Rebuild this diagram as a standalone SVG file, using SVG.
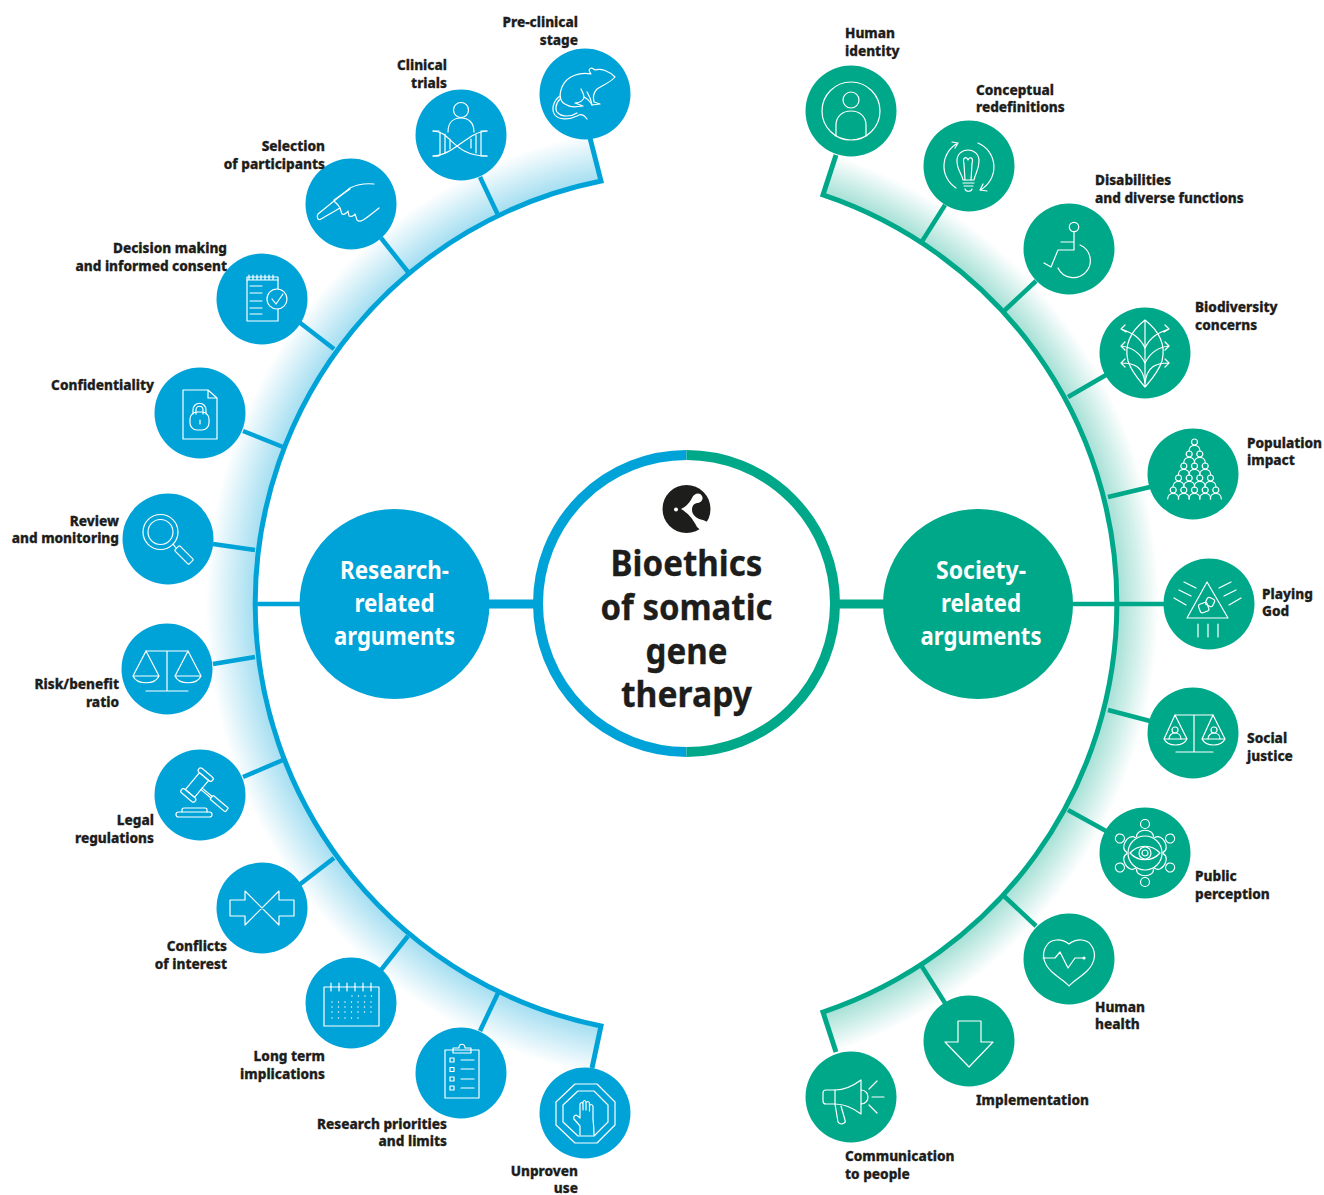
<svg xmlns="http://www.w3.org/2000/svg" xmlns:xlink="http://www.w3.org/1999/xlink" width="1324" height="1195" viewBox="0 0 1324 1195">
<style>
text{font-family:"Noto Sans","Open Sans","Liberation Sans",sans-serif;}
.lb{font-size:13.6px;font-weight:800;fill:#1d1d1b;stroke:#1d1d1b;stroke-width:0.3px;}
.r{text-anchor:end;}
.big{font-size:24.5px;font-weight:700;fill:#fff;text-anchor:middle;}
.title{font-size:35px;font-weight:700;fill:#1d1d1b;stroke:#1d1d1b;stroke-width:0.3px;text-anchor:middle;}
.b{fill:#00a3d8;}
.g{fill:#00a88a;}
.ic{fill:none;stroke:#fff;stroke-width:1.2;stroke-linecap:round;stroke-linejoin:round;}
.bl{fill:none;stroke:#00a3d8;}
.gr{fill:none;stroke:#00a88a;}
</style>
<defs>
<radialGradient id="gb" gradientUnits="userSpaceOnUse" cx="686" cy="603.5" r="490">
<stop offset="0.875" stop-color="#00a3d8" stop-opacity="0.38"/>
<stop offset="0.98" stop-color="#00a3d8" stop-opacity="0"/>
</radialGradient>
<radialGradient id="gg" gradientUnits="userSpaceOnUse" cx="686" cy="603.5" r="490">
<stop offset="0.875" stop-color="#00a88a" stop-opacity="0.38"/>
<stop offset="0.965" stop-color="#00a88a" stop-opacity="0"/>
</radialGradient>
<g id="per"><circle cx="0" cy="0" r="3"/><path d="M-5.5,9 C-5.5,1.5 5.5,1.5 5.5,9"/></g>
<g id="pp"><circle cx="0" cy="-29" r="4.5"/><path d="M-8.5,-16 C-9,-25 9,-25 8.5,-16"/></g>
</defs>

<g id="connectors">
<path d="M601,181 L589.4,123.2 A490,490 0 0 0 589.4,1083.8 L601,1026 A431,431 0 0 1 601,181 Z" fill="url(#gb)"/>
<path d="M823,194.900 L841.8,139.1 A490,490 0 0 1 841.8,1067.9 L823,1012.100 A431,431 0 0 0 823,194.900 Z" fill="url(#gg)"/>
<path class="bl" stroke-width="5" stroke-linejoin="miter" d="M590,138 L601,181 A431,431 0 0 0 601,1026 L592,1068"/>
<path class="gr" stroke-width="5" stroke-linejoin="miter" d="M836,155 L823,194.900 A431,431 0 0 1 823,1012.100 L836,1052"/>
<g class="bl" stroke-width="4.5">
<path d="M480,177 L498,215"/><path d="M381,238 L408,272"/><path d="M299,322 L334,349"/><path d="M243,431 L283,447"/><path d="M213,544 L255,550"/>
<path d="M255,604 H300"/>
<path d="M213,664 L255,657"/><path d="M243,777 L283,760"/><path d="M299,885 L334,858"/><path d="M381,970 L408,936"/><path d="M480,1031 L498,993"/>
</g>
<path class="bl" stroke-width="9" d="M489,604 H540"/>
<path class="gr" stroke-width="9" d="M834,604 H884"/>
<g class="gr" stroke-width="4.5">
<path d="M945,205 L921,243"/><path d="M1036,281 L1004,311"/><path d="M1106,375 L1068,397"/><path d="M1150,487 L1108,497"/>
<path d="M1072,604 H1165"/>
<path d="M1150,721 L1108,710"/><path d="M1106,831 L1068,810"/><path d="M1036,926 L1004,896"/><path d="M945,1003 L921,965"/>
</g>
</g>

<g id="center">
<circle cx="686.5" cy="603.5" r="148.5" fill="#fff"/>
<path class="bl" stroke-width="10" d="M686.5,455 A148.5,148.5 0 0 0 686.5,752"/>
<path class="gr" stroke-width="10" d="M686.5,455 A148.5,148.5 0 0 1 686.5,752"/>
<circle cx="686.5" cy="509" r="24" fill="#1d1d1b"/>
<path fill="#fff" d="M681,509 C686,507 690,502 692,498 C694,493 700,492 702,496 C704,500 700,503 697,503 C693,504 692,507 692,510 C692,515 697,519 703,520 L712,524 L706,535 L697,527 C693,519 688,513 681,509 Z"/>
<circle cx="676" cy="509.500" r="2" fill="#fff"/>
<text class="title" x="686.5" y="576" textLength="152" lengthAdjust="spacingAndGlyphs">Bioethics</text>
<text class="title" x="686.5" y="620" textLength="172" lengthAdjust="spacingAndGlyphs">of somatic</text>
<text class="title" x="686.5" y="664" textLength="82" lengthAdjust="spacingAndGlyphs">gene</text>
<text class="title" x="686.5" y="707" textLength="131" lengthAdjust="spacingAndGlyphs">therapy</text>
</g>

<g id="research-hub"><circle class="b" cx="394.5" cy="604" r="95"/>
<text class="big" x="394.5" y="579" textLength="109" lengthAdjust="spacingAndGlyphs">Research-</text><text class="big" x="394.5" y="612" textLength="80" lengthAdjust="spacingAndGlyphs">related</text><text class="big" x="394.5" y="645" textLength="121" lengthAdjust="spacingAndGlyphs">arguments</text></g>
<g id="society-hub"><circle class="g" cx="978" cy="604" r="95"/>
<text class="big" x="981" y="579" textLength="90" lengthAdjust="spacingAndGlyphs">Society-</text><text class="big" x="981" y="612" textLength="80" lengthAdjust="spacingAndGlyphs">related</text><text class="big" x="981" y="645" textLength="121" lengthAdjust="spacingAndGlyphs">arguments</text></g>

<g id="preclinical"><circle class="b" cx="585" cy="94" r="45.5"/>
<g class="ic" transform="translate(585,94)"><path d="M30,-17 C24,-23 16,-26 10,-24 C6,-28 2,-25 6,-20 C-4,-22 -18,-19 -23,-7 C-27,3 -24,9 -18,11 C-14,14 -8,13 -2,12 L-10,9 C-5,9 -1,6 -1,3 C3,5 6,9 7,11 L15,10 L9,8 C8,4 8,-1 12,-5 C18,-9 26,-12 30,-17 Z"/><path d="M-25,2 C-32,7 -34,16 -30,21 C-26,26 -16,26 -8,22 C-4,19 -1,21 2,25 M-25,5 C-30,10 -30,17 -27,19 C-23,23 -14,23 -8,19"/><path d="M-1,3 C-1,0 -3,-3 -4,-5 M7,11 C6,4 3,0 2,-2"/></g>
<text class="lb r" x="578" y="27">Pre-clinical</text><text class="lb r" x="578" y="45">stage</text></g>

<g id="clinical"><circle class="b" cx="461" cy="135" r="45.5"/>
<g class="ic" transform="translate(461,135)"><circle cx="0" cy="-25" r="7.5"/><path d="M-13,-3 C-13,-13 -7,-17 0,-17 C7,-17 13,-13 13,-3"/><path d="M-28,-4 C-10,-4 -8,21 26,21 M-28,21 C-8,21 8,-4 26,-4"/><path d="M-28,-4 H-22 M20,-4 H26 M-28,21 H-22 M20,21 H26 M-21,-3 V20 M-16,-1 V18 M-11,4 V14 M10,4 V13 M15,0 V18 M20,-3 V20"/></g>
<text class="lb r" x="447" y="70">Clinical</text><text class="lb r" x="447" y="88">trials</text></g>

<g id="selection"><circle class="b" cx="351" cy="204" r="45.5"/>
<g class="ic" transform="translate(351,204)"><path d="M23,-20 C13,-21 7,-20 -1,-16 L-33,10 C-35,13 -33,17 -30,15 L-11,4 L-9,10 C-7,11 -4,9 -3,7 L-2,12 C0,13 3,12 4,10 L6,16 C9,19 12,17 28,4"/><path d="M-17,-3 L-13,1 L-11,4 M-17,-4 L-1,-15"/></g>
<text class="lb r" x="325" y="151">Selection</text><text class="lb r" x="325" y="169">of participants</text></g>

<g id="decision"><circle class="b" cx="262" cy="299" r="45.5"/>
<g class="ic" transform="translate(262,299)"><rect x="-15" y="-22" width="31" height="44"/><path d="M-15,-19 H16 M-13,-24 V-19 M-9,-24 V-19 M-5,-24 V-19 M-1,-24 V-19 M3,-24 V-19 M7,-24 V-19 M11,-24 V-19 M-12,-13 H0 M-12,-6 H0 M-12,2 H0 M-12,9 H0 M-12,15 H0"/><circle cx="15" cy="0" r="10" fill="#00a3d8"/><path d="M10,0 L14,5 L21,-5"/></g>
<text class="lb r" x="227" y="253">Decision making</text><text class="lb r" x="227" y="271">and informed consent</text></g>

<g id="confidentiality"><circle class="b" cx="200" cy="413" r="45.5"/>
<g class="ic" transform="translate(200,413)"><path d="M-17,-23 H8 L17,-15 V26 H-17 Z M8,-23 V-15 H17"/><rect x="-10" y="-1" width="19" height="18" rx="7"/><path d="M-7,1 V-3 C-7,-12 6,-12 6,-3 V1 M-4,1 V-3 C-4,-8 3,-8 3,-3 V1 M0,7 V11"/></g>
<text class="lb r" x="154" y="390">Confidentiality</text></g>

<g id="review"><circle class="b" cx="168" cy="539" r="45.5"/>
<g class="ic" transform="translate(168,539)"><circle cx="-7.500" cy="-7" r="17.500"/><circle cx="-7.500" cy="-7" r="12.500"/><path d="M5,5 L8,9"/><rect x="6" y="12.500" width="20" height="7" rx="1" transform="rotate(45 16 16)"/></g>
<text class="lb r" x="119" y="526">Review</text><text class="lb r" x="119" y="543">and monitoring</text></g>

<g id="risk"><circle class="b" cx="167" cy="669" r="45.5"/>
<g class="ic" transform="translate(167,669)"><path d="M0,-18 V22 M-21,22 H21 M-21,-18 H21"/><path d="M-21,-18 L-34,7 H-8 Z M-34,7 C-30,16 -12,16 -8,7 M21,-18 L8,7 H34 Z M8,7 C12,16 30,16 34,7"/></g>
<text class="lb r" x="119" y="689">Risk/benefit</text><text class="lb r" x="119" y="707">ratio</text></g>

<g id="legal"><circle class="b" cx="200" cy="795" r="45.5"/>
<g class="ic" transform="translate(200,795)"><g transform="translate(-3,-10) rotate(40)"><rect x="-6" y="-11" width="12" height="22"/><rect x="-9" y="-16" width="18" height="5" rx="2.500"/><rect x="-9" y="11" width="18" height="5" rx="2.500"/><path d="M6,-1 H19 M6,1 H19"/><rect x="19" y="-2.500" width="20" height="5" rx="1"/></g><rect x="-24" y="17" width="36" height="5" rx="2.500"/><path d="M-18,17 V15 Q-18,13 -16,13 H5 Q7,13 7,15 V17"/></g>
<text class="lb r" x="154" y="825">Legal</text><text class="lb r" x="154" y="843">regulations</text></g>

<g id="conflicts"><circle class="b" cx="262" cy="908" r="45.5"/>
<g class="ic" transform="translate(262,908)"><path d="M-32,-8 H-17 V-17 L17,17 V8 H32 V-8 H17 V-17 L-17,17 V8 H-32 Z"/></g>
<text class="lb r" x="227" y="951">Conflicts</text><text class="lb r" x="227" y="969">of interest</text></g>

<g id="longterm"><circle class="b" cx="351" cy="1003" r="45.5"/>
<g class="ic" transform="translate(351,1003)"><rect x="-27" y="-16" width="55" height="39"/><path d="M-20,-20 V-12 M-12,-20 V-12 M-4,-20 V-12 M4,-20 V-12 M12,-20 V-12 M20,-20 V-12"/><path stroke-dasharray="0 6.5" stroke-width="1.4" d="M1,-7 H21 M-19,-1 H21 M-19,4 H21 M-19,9 H21 M-19,15 H8"/></g>
<text class="lb r" x="325" y="1061">Long term</text><text class="lb r" x="325" y="1079">implications</text></g>

<g id="priorities"><circle class="b" cx="461" cy="1073" r="45.5"/>
<g class="ic" transform="translate(461,1073)"><rect x="-16" y="-23" width="34" height="48"/><path d="M-8,-20 V-25 H-2 C-2,-30 4,-30 4,-25 H10 V-20 Z"/><rect x="-11" y="-15" width="4" height="4"/><rect x="-11" y="-5.500" width="4" height="4"/><rect x="-11" y="4" width="4" height="4"/><rect x="-11" y="13" width="4" height="4"/><path d="M0,-13 H13 M0,-4 H13 M0,6 H13 M0,15 H13"/></g>
<text class="lb r" x="447" y="1129">Research priorities</text><text class="lb r" x="447" y="1146">and limits</text></g>

<g id="unproven"><circle class="b" cx="585" cy="1113" r="45.5"/>
<g class="ic" transform="translate(585,1113)"><path d="M-10,-29 H12 L30,-11 V12 L12,30 H-10 L-29,12 V-11 Z"/><path d="M-7,-22 H9 L23,-8 V9 L9,23 H-7 L-22,9 V-8 Z"/><path d="M-5,22 V13 L-11,6 Q-12,3 -9,2 Q-7,3 -5,5 V-9 Q-3.500,-12 -2,-9 V-3 V-11 Q-0.500,-14 1,-11 V-3 V-10 Q3,-13 4.500,-10 V-2 V-7 Q6,-10 8,-7 V6 Q9,15 9,22"/></g>
<text class="lb r" x="578" y="1176">Unproven</text><text class="lb r" x="578" y="1193">use</text></g>

<g id="identity"><circle class="g" cx="851" cy="111" r="45.5"/>
<g class="ic" transform="translate(851,111)"><circle cx="0" cy="0" r="29"/><circle cx="0" cy="-11" r="8"/><path d="M-15,25 V14 C-15,5 -8,0 0,0 C8,0 15,5 15,14 V25"/></g>
<text class="lb" x="845" y="38">Human</text><text class="lb" x="845" y="56">identity</text></g>

<g id="conceptual"><circle class="g" cx="969" cy="166" r="45.5"/>
<g class="ic" transform="translate(969,166)"><path d="M-6,14 C-7,8 -12,4 -12,-5 C-12,-12 -7,-16 -1,-16 C5,-16 10,-12 10,-5 C10,4 6,8 5,14 Z"/><path d="M-4,14 L-5,-2 C-7,-10 -2,-9 -1,-6 C0,-9 5,-10 3,-2 L2,14 M-6,17 H5 M-5,20 H4 M-4,23 C-3,26 2,26 3,23"/><path d="M-13,22 A26,26 0 0 1 -11,-23 M-17,-24 L-11,-23 L-14,-18 M9,-23 A26,26 0 0 1 11,24 M18,25 L11,24 L14,18"/></g>
<text class="lb" x="976" y="95">Conceptual</text><text class="lb" x="976" y="112">redefinitions</text></g>

<g id="disabilities"><circle class="g" cx="1069" cy="249" r="45.5"/>
<g class="ic" transform="translate(1069,249)"><circle cx="5" cy="-22" r="4.700"/><path d="M5,-17 V1 M-8,-7 H5 M-11,1 H5 M-11,1 L-18,18 L-25,14"/><path d="M11,-4 A17,17 0 1 1 -11,19"/></g>
<text class="lb" x="1095" y="185">Disabilities</text><text class="lb" x="1095" y="203">and diverse functions</text></g>

<g id="biodiversity"><circle class="g" cx="1145" cy="353" r="45.5"/>
<g class="ic" transform="translate(1145,353)"><path d="M0,-33 C-14,-22 -21,-8 -17,8 C-13,20 -5,28 0,34 C5,28 13,20 17,8 C21,-8 14,-22 0,-33 Z M0,-33 V34"/><path d="M0,-5 C-6,-18 -16,-21 -24,-24 M-20,-28 L-24,-24 L-19,-21 M0,10 C-6,-2 -14,-6 -24,-7 M-20,-11 L-24,-7 L-20,-3 M0,30 C-2,14 -10,10 -24,10 M-20,6 L-24,10 L-20,14 M0,-5 C6,-18 16,-21 24,-24 M20,-28 L24,-24 L19,-21 M0,10 C6,-2 14,-6 24,-7 M20,-11 L24,-7 L20,-3 M0,30 C2,14 10,10 24,10 M20,6 L24,10 L20,14"/></g>
<text class="lb" x="1195" y="312">Biodiversity</text><text class="lb" x="1195" y="330">concerns</text></g>

<g id="population"><circle class="g" cx="1193" cy="474" r="45.5"/>
<g class="ic" transform="translate(1194.500,474)">
<use xlink:href="#per" href="#per" x="0" y="-32"/>
<use xlink:href="#per" href="#per" x="-5.300" y="-20"/><use xlink:href="#per" href="#per" x="5.300" y="-20"/>
<use xlink:href="#per" href="#per" x="-10.700" y="-8"/><use xlink:href="#per" href="#per" x="0" y="-8"/><use xlink:href="#per" href="#per" x="10.700" y="-8"/>
<use xlink:href="#per" href="#per" x="-16" y="4"/><use xlink:href="#per" href="#per" x="-5.300" y="4"/><use xlink:href="#per" href="#per" x="5.300" y="4"/><use xlink:href="#per" href="#per" x="16" y="4"/>
<use xlink:href="#per" href="#per" x="-21.300" y="16"/><use xlink:href="#per" href="#per" x="-10.700" y="16"/><use xlink:href="#per" href="#per" x="0" y="16"/><use xlink:href="#per" href="#per" x="10.700" y="16"/><use xlink:href="#per" href="#per" x="21.300" y="16"/>
</g>
<text class="lb" x="1247" y="448">Population</text><text class="lb" x="1247" y="465">impact</text></g>

<g id="playing"><circle class="g" cx="1209" cy="604" r="45.5"/>
<g class="ic" transform="translate(1209,604)"><path d="M-2,-22 L-22,14 H19 Z"/><rect x="-10" y="-1" width="9" height="9" rx="2" transform="rotate(-20 -5 3)"/><rect x="-3" y="-6" width="8" height="8" rx="2" transform="rotate(25 1 -2)"/><path d="M-25,-22 L-13,-16 M-30,-14 L-18,-8 M-35,-6 L-23,1 M22,-22 L10,-16 M27,-14 L15,-8 M32,-6 L20,1 M-11,20 V33 M-1,20 V33 M9,20 V33"/></g>
<text class="lb" x="1262" y="599">Playing</text><text class="lb" x="1262" y="616">God</text></g>

<g id="justice"><circle class="g" cx="1193" cy="733" r="45.5"/>
<g class="ic" transform="translate(1193,733)"><path d="M1,-18 V19 M-17,19 H20 M-18,-18 H20"/><path d="M-18,-18 L-29,6 H-6 Z M-29,6 C-25,14 -10,14 -6,6 M20,-18 L9,6 H32 Z M9,6 C13,14 28,14 32,6"/><circle cx="-18" cy="-3" r="3"/><path d="M-24,6 C-24,-2 -12,-2 -12,6"/><circle cx="21" cy="-3" r="3"/><path d="M15,6 C15,-2 27,-2 27,6"/></g>
<text class="lb" x="1247" y="743">Social</text><text class="lb" x="1247" y="761">justice</text></g>

<g id="perception"><circle class="g" cx="1145" cy="853" r="45.5"/>
<g class="ic" transform="translate(1145,853)"><use xlink:href="#pp" href="#pp"/><use xlink:href="#pp" href="#pp" transform="rotate(60)"/><use xlink:href="#pp" href="#pp" transform="rotate(120)"/><use xlink:href="#pp" href="#pp" transform="rotate(180)"/><use xlink:href="#pp" href="#pp" transform="rotate(240)"/><use xlink:href="#pp" href="#pp" transform="rotate(300)"/><circle cx="0" cy="0" r="17" fill="#00a88a"/><path d="M-15,0 C-7,-9 7,-9 15,0 C7,9 -7,9 -15,0 Z"/><circle cx="0" cy="0" r="6"/><circle cx="0" cy="0" r="3"/></g>
<text class="lb" x="1195" y="881">Public</text><text class="lb" x="1195" y="899">perception</text></g>

<g id="health"><circle class="g" cx="1069" cy="959" r="45.5"/>
<g class="ic" transform="translate(1069,959)"><path d="M0,-15 C-8,-21 -18,-20 -22,-14 C-28,-6 -26,4 -18,12 C-12,18 -4,22 0,27 C4,22 12,18 18,12 C26,4 28,-6 22,-14 C18,-20 8,-21 0,-15 Z"/><path d="M-26,-1 H-14 L-9,-7 L-1,9 L6,-1 H15"/><circle cx="15" cy="-1" r="1" fill="#fff"/></g>
<text class="lb" x="1095" y="1012">Human</text><text class="lb" x="1095" y="1029">health</text></g>

<g id="implementation"><circle class="g" cx="969" cy="1041" r="45.5"/>
<g class="ic" transform="translate(969,1041)"><path d="M-11,-20 H12 V1 H24 L0,26 L-24,1 H-11 Z"/></g>
<text class="lb" x="976" y="1105">Implementation</text></g>

<g id="communication"><circle class="g" cx="851" cy="1097" r="45.5"/>
<g class="ic" transform="translate(851,1097)"><path d="M-16,-7 C-6,-7 2,-11 10,-17 V17 C2,11 -6,7 -16,7 Z"/><path d="M-16,-7 H-25 Q-28,-7 -28,-4 V4 Q-28,7 -25,7 H-16 M-16,7 L-13,25 Q-12,27 -9,27 L-7,26 Q-5,25 -6,23 L-10,9 M10,-7 C15,-7 17,-3 17,0 C17,3 15,7 10,7 M18,-8 L26,-16 M21,0 H33 M18,8 L26,16"/></g>
<text class="lb" x="845" y="1161">Communication</text><text class="lb" x="845" y="1179">to people</text></g>
</svg>
